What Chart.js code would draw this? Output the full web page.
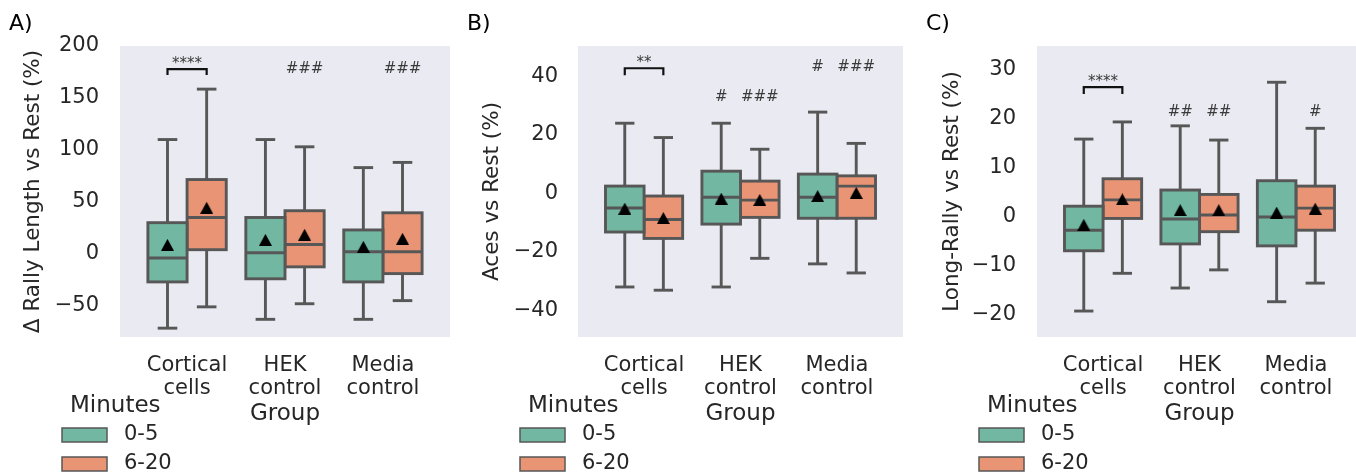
<!DOCTYPE html>
<html><head><meta charset="utf-8">
<script src="https://cdn.jsdelivr.net/npm/chart.js@4.4.1/dist/chart.umd.min.js"></script>
<style>
html,body{margin:0;padding:0;background:#fff;overflow:hidden;width:1356px;height:472px}
body{position:relative}
canvas{position:absolute;top:0}
</style></head><body>
<canvas id="panelA" width="460" height="472" style="left:0px;width:460px;height:472px"></canvas>
<canvas id="panelB" width="450" height="472" style="left:460px;width:450px;height:472px"></canvas>
<canvas id="panelC" width="459" height="472" style="left:910px;width:459px;height:472px"></canvas>
<script>
// ---------------- data ----------------
const categories = [['Cortical', 'cells'], ['HEK', 'control'], ['Media', 'control']];
const hueLabels = ['0-5', '6-20'];
const legendTitle = 'Minutes';
const xTitle = 'Group';

// Panel A: Δ Rally Length vs Rest (%)
const A_low_05   = [-71.5, -63, -63];
const A_q1_05    = [-27, -24, -27];
const A_med_05   = [-4, 1, 2];
const A_q3_05    = [30, 35, 23];
const A_high_05  = [110, 110, 83];
const A_mean_05  = [8.7, 13.5, 6.8];
const A_low_620  = [-51, -48, -45];
const A_q1_620   = [4, -12.5, -19];
const A_med_620  = [35, 9, 2];
const A_q3_620   = [71.5, 41.5, 39.5];
const A_high_620 = [158.5, 103, 88];
const A_mean_620 = [44.4, 18.4, 14.5];
const A_yTicks   = [-50, 0, 50, 100, 150, 200];

// Panel B: Aces vs Rest (%)
const B_low_05   = [-32.1, -32.1, -24.2];
const B_q1_05    = [-13.3, -10.6, -8.6];
const B_med_05   = [-5.1, -1.4, -1.4];
const B_q3_05    = [2.4, 7.5, 6.5];
const B_high_05  = [23.9, 23.9, 27.7];
const B_mean_05  = [-5.3, -1.9, -1.0];
const B_low_620  = [-33.2, -22.3, -27.3];
const B_q1_620   = [-15.5, -8.3, -8.6];
const B_med_620  = [-9, -2.4, 2.4];
const B_q3_620   = [-1, 4.1, 5.9];
const B_high_620 = [19, 15, 17];
const B_mean_620 = [-8.5, -2.3, 0.1];
const B_yTicks   = [-40, -20, 0, 20, 40];

// Panel C: Long-Rally vs Rest (%)
const C_low_05   = [-19.2, -14.5, -17.3];
const C_q1_05    = [-6.9, -5.5, -5.9];
const C_med_05   = [-2.7, -0.4, 0];
const C_q3_05    = [2.2, 5.5, 7.4];
const C_high_05  = [15.9, 18.6, 27.5];
const C_mean_05  = [-1.6, 1.4, 0.9];
const C_low_620  = [-11.5, -10.8, -13.5];
const C_q1_620   = [-0.3, -3, -2.7];
const C_med_620  = [3.5, 0.4, 1.8];
const C_q3_620   = [7.8, 4.6, 6.3];
const C_high_620 = [19.4, 15.7, 18.1];
const C_mean_620 = [3.6, 1.4, 1.7];
const C_yTicks   = [-20, -10, 0, 10, 20, 30];

// significance marks: [category, hue, text, y]
const A_marks = [[1, 1, '###', 174], [2, 1, '###', 174]];
const B_marks = [[1, 0, '#', 31.5], [1, 1, '###', 31.5], [2, 0, '#', 41.7], [2, 1, '###', 41.7]];
const C_marks = [[1, 0, '##', 20.6], [1, 1, '##', 20.6], [2, 1, '#', 20.6]];
// bracket between hues of the first category: [text, top y, tick end y]
const A_bracket = ['****', 177.8, 172];
const B_bracket = ['**', 42.7, 40.3];
const C_bracket = ['****', 26.5, 25.1];

// ---------------- styles ----------------
const FONT = "'DejaVu Sans', sans-serif";
const TXT = '#262626';
const BG = '#eaeaf2';
const EDGE = '#575757';
const LW = 2.9;
const hueColors = ['#71b7a1', '#e99575'];
const hueOffsets = [-0.2, 0.2];

// bbox-centred triangle marker (like matplotlib '^')
const triMarker = document.createElement('canvas');
triMarker.width = 13; triMarker.height = 12;
(function () {
  const c = triMarker.getContext('2d');
  c.fillStyle = '#000';
  c.beginPath(); c.moveTo(6.5, 0); c.lineTo(13, 12); c.lineTo(0, 12); c.closePath(); c.fill();
})();

function line(ctx, x1, y1, x2, y2) { ctx.beginPath(); ctx.moveTo(x1, y1); ctx.lineTo(x2, y2); ctx.stroke(); }

const boxPlugin = {
  id: 'boxParts',
  beforeDraw(chart) {
    const {ctx, chartArea: a} = chart;
    ctx.save(); ctx.fillStyle = BG;
    ctx.fillRect(a.left, a.top, a.right - a.left, a.bottom - a.top);
    ctx.restore();
  },
  beforeDatasetsDraw(chart) {
    const ctx = chart.ctx, ys = chart.scales.y;
    ctx.save(); ctx.strokeStyle = EDGE; ctx.lineWidth = LW; ctx.lineCap = 'butt';
    chart.data.datasets.forEach((ds, d) => {
      if (!ds.stats) return;
      const s = ds.stats;
      chart.getDatasetMeta(d).data.forEach((el, i) => {
        const x = el.x, hw = el.width / 4;
        const pHi = ys.getPixelForValue(s.high[i]), pLo = ys.getPixelForValue(s.low[i]);
        line(ctx, x, ys.getPixelForValue(s.q3[i]), x, pHi);
        line(ctx, x, ys.getPixelForValue(s.q1[i]), x, pLo);
        line(ctx, x - hw, pHi, x + hw, pHi);
        line(ctx, x - hw, pLo, x + hw, pLo);
      });
    });
    ctx.restore();
  },
  afterDatasetDraw(chart, args) {
    const ds = chart.data.datasets[args.index];
    if (!ds.stats) return;
    const ctx = chart.ctx, ys = chart.scales.y, s = ds.stats;
    ctx.save(); ctx.strokeStyle = EDGE; ctx.lineWidth = LW; ctx.lineJoin = 'miter';
    args.meta.data.forEach((el, i) => {
      const top = Math.min(el.y, el.base), h = Math.abs(el.base - el.y);
      ctx.strokeRect(el.x - el.width / 2, top, el.width, h);
      const pm = ys.getPixelForValue(s.med[i]);
      line(ctx, el.x - el.width / 2, pm, el.x + el.width / 2, pm);
    });
    ctx.restore();
  },
  afterDraw(chart) {
    const {ctx, chartArea: a} = chart;
    const ys = chart.scales.y;
    const cfg = chart.config.options.panelCfg;
    const cx = (hue, cat) => chart.getDatasetMeta(hue).data[cat].x;
    ctx.save();
    // bracket + stars
    const [btxt, bTop, bEnd] = cfg.bracket;
    const x0 = cx(0, 0), x1 = cx(1, 0);
    const pT = ys.getPixelForValue(bTop), pE = ys.getPixelForValue(bEnd);
    ctx.strokeStyle = '#111'; ctx.lineWidth = 2.2; ctx.lineJoin = 'miter'; ctx.lineCap = 'butt';
    ctx.beginPath(); ctx.moveTo(x0, pE); ctx.lineTo(x0, pT); ctx.lineTo(x1, pT); ctx.lineTo(x1, pE); ctx.stroke();
    ctx.fillStyle = '#3a3a3a'; ctx.textAlign = 'center'; ctx.textBaseline = 'alphabetic';
    ctx.font = '15px ' + FONT;
    ctx.fillText(btxt, (x0 + x1) / 2, pT - 1);
    cfg.marks.forEach(([cat, hue, t, yv]) => {
      ctx.fillText(t, cx(hue, cat), ys.getPixelForValue(yv));
    });
    // legend
    ctx.textAlign = 'left'; ctx.textBaseline = 'middle'; ctx.fillStyle = TXT;
    ctx.font = '23px ' + FONT;
    ctx.fillText(legendTitle, a.left - 50, 406);
    hueLabels.forEach((lab, k) => {
      const yc = 435 + k * 29;
      ctx.fillStyle = hueColors[k];
      ctx.fillRect(a.left - 58, yc - 7, 45, 14);
      ctx.strokeStyle = EDGE; ctx.lineWidth = 1.5;
      ctx.strokeRect(a.left - 58, yc - 7, 45, 14);
      ctx.fillStyle = TXT; ctx.font = '21px ' + FONT;
      ctx.fillText(lab, a.left + 4, yc);
    });
    // panel letter
    ctx.font = '22px ' + FONT; ctx.fillStyle = '#000';
    ctx.fillText(cfg.letter, a.left - 111, 24);
    ctx.restore();
  }
};

function makePanel(id, p) {
  const datasets = [];
  p.hues.forEach((h, k) => {
    datasets.push({
      type: 'bar', label: hueLabels[k],
      data: categories.map((c, i) => ({x: i, y: [h.q1[i], h.q3[i]]})),
      backgroundColor: hueColors[k], borderWidth: 0,
      categoryPercentage: 0.8, barPercentage: 1.0, order: 2, stats: h
    });
  });
  p.hues.forEach((h, k) => {
    datasets.push({
      type: 'scatter', label: 'mean ' + hueLabels[k],
      data: categories.map((c, i) => ({x: i + hueOffsets[k], y: h.mean[i]})),
      pointStyle: triMarker, pointRadius: 7, backgroundColor: '#000', borderWidth: 0,
      showLine: false, order: 1
    });
  });
  new Chart(document.getElementById(id), {
    type: 'bar',
    data: {datasets},
    options: {
      panelCfg: p,
      responsive: false, animation: false, events: [],
      layout: {padding: {left: 0, right: p.padRight, top: 46, bottom: 0}},
      plugins: {legend: {display: false}, tooltip: {enabled: false}},
      scales: {
        x: {
          type: 'linear', min: -0.685, max: 2.685, offset: false,
          grid: {display: false, drawTicks: false}, border: {display: false},
          afterBuildTicks: s => { s.ticks = categories.map((c, i) => ({value: i})); },
          ticks: {autoSkip: false, maxRotation: 0, minRotation: 0, padding: 18, color: TXT,
                  font: {family: FONT, size: 21, lineHeight: 1.05},
                  callback: (v, i) => categories[i]},
          title: {display: true, text: xTitle, color: TXT, font: {family: FONT, size: 23},
                  padding: {top: 0, bottom: 44}},
          afterFit: s => { s.height = 135; }
        },
        y: {
          type: 'linear', min: p.ymin, max: p.ymax,
          grid: {display: false, drawTicks: false}, border: {display: false},
          afterBuildTicks: s => { s.ticks = p.yTicks.map(v => ({value: v})); },
          ticks: {padding: p.tickPad, color: TXT, font: {family: FONT, size: 21},
                  callback: v => (v < 0 ? '\u2212' : '') + Math.abs(v)},
          title: {display: true, text: p.yTitle, color: TXT, font: {family: FONT, size: 21.5},
                  padding: {top: p.yTitleCenter - 12.9, bottom: 0}},
          afterFit: s => { s.width = p.yAxisW; }
        }
      }
    },
    plugins: [boxPlugin]
  });
}

makePanel('panelA', {
  letter: 'A)', yTitle: 'Δ Rally Length vs Rest (%)', ymin: -80, ymax: 200, yTicks: A_yTicks,
  yAxisW: 120, padRight: 10, tickPad: 21, yTitleCenter: 33,
  hues: [
    {low: A_low_05, q1: A_q1_05, med: A_med_05, q3: A_q3_05, high: A_high_05, mean: A_mean_05},
    {low: A_low_620, q1: A_q1_620, med: A_med_620, q3: A_q3_620, high: A_high_620, mean: A_mean_620}
  ],
  marks: A_marks, bracket: A_bracket
});
makePanel('panelB', {
  letter: 'B)', yTitle: 'Aces vs Rest (%)', ymin: -49.2, ymax: 50.3, yTicks: B_yTicks,
  yAxisW: 118, padRight: 1, tickPad: 20, yTitleCenter: 32,
  hues: [
    {low: B_low_05, q1: B_q1_05, med: B_med_05, q3: B_q3_05, high: B_high_05, mean: B_mean_05},
    {low: B_low_620, q1: B_q1_620, med: B_med_620, q3: B_q3_620, high: B_high_620, mean: B_mean_620}
  ],
  marks: B_marks, bracket: B_bracket
});
makePanel('panelC', {
  letter: 'C)', yTitle: 'Long-Rally vs Rest (%)', ymin: -24.5, ymax: 34.9, yTicks: C_yTicks,
  yAxisW: 127, padRight: 0, tickPad: 21, yTitleCenter: 42,
  hues: [
    {low: C_low_05, q1: C_q1_05, med: C_med_05, q3: C_q3_05, high: C_high_05, mean: C_mean_05},
    {low: C_low_620, q1: C_q1_620, med: C_med_620, q3: C_q3_620, high: C_high_620, mean: C_mean_620}
  ],
  marks: C_marks, bracket: C_bracket
});
</script></body></html>
